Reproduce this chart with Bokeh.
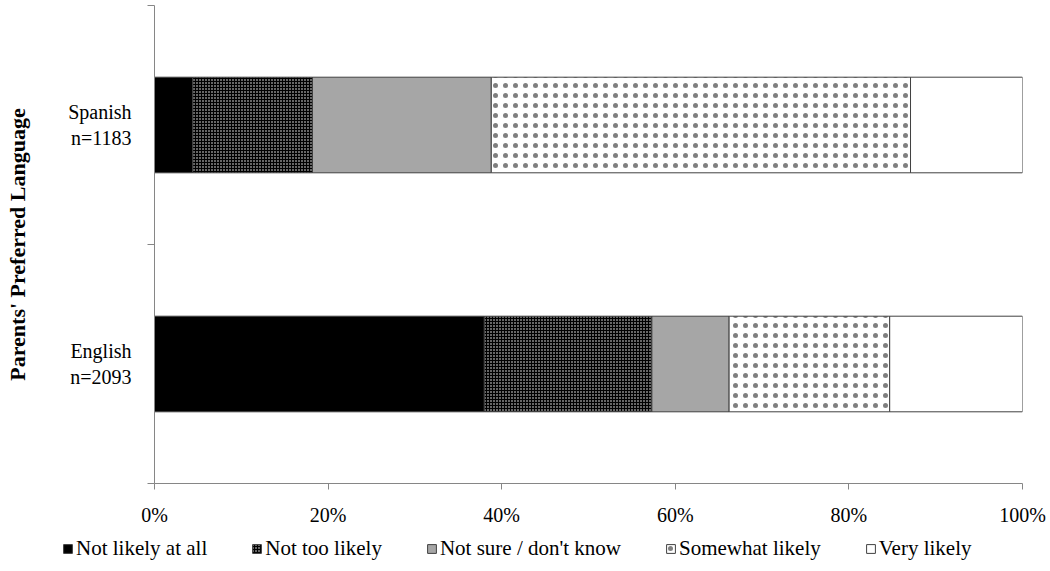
from bokeh.plotting import figure
from bokeh.layouts import column
from bokeh.models import (ColumnDataSource, Range1d, FixedTicker, NumeralTickFormatter,
                          Legend, LegendItem)
from bokeh.embed import file_html
from bokeh.resources import INLINE

# ---- data ----
languages = ["English", "Spanish"]
sample_sizes = [2093, 1183]
responses = ["Not likely at all", "Not too likely", "Not sure / don't know",
             "Somewhat likely", "Very likely"]
english_pct = [38.0, 19.3, 8.9, 18.5, 15.3]
spanish_pct = [4.4, 13.8, 20.6, 48.3, 12.9]
x_ticks = [0, 0.2, 0.4, 0.6, 0.8, 1.0]

# ---- styles ----
fills = ["#000000", "#000000", "#A6A6A6", "#FFFFFF", "#FFFFFF"]
hatches = [" ", "dot", " ", "dot", " "]
hatch_colors = ["#000000", "#FFFFFF", "#000000", "#000000", "#000000"]
hatch_scales = [4, 3, 4, 10, 4]
hatch_weights = [1, 1, 1, 1, 1]
hatch_alphas = [1, 1, 1, 0.5, 1]
FONT = "Liberation Serif"

ypos = [i + 0.5 for i in range(len(languages))]
data = {"y": ypos}
for k, r in enumerate(responses):
    data[r] = [english_pct[k] / 100.0, spanish_pct[k] / 100.0]
source = ColumnDataSource(data)

bar_style = dict(fill_color=fills, line_color="#404040", line_width=1,
                 hatch_pattern=hatches, hatch_color=hatch_colors,
                 hatch_scale=hatch_scales, hatch_weight=hatch_weights,
                 hatch_alpha=hatch_alphas)

p = figure(width=1050, height=530, output_backend="svg", toolbar_location=None,
           x_range=Range1d(0, 1), y_range=Range1d(0, 2),
           min_border_left=154, min_border_right=28, min_border_top=5,
           min_border_bottom=47)
p.outline_line_color = None
p.xgrid.visible = False
p.ygrid.visible = False
p.frame_align = False

renderers = p.hbar_stack(responses, y="y", height=0.4, source=source, **bar_style)

# x axis
xa = p.xaxis[0]
xa.ticker = FixedTicker(ticks=x_ticks)
xa.formatter = NumeralTickFormatter(format="0%")
xa.axis_line_color = "#868686"
xa.major_tick_line_color = "#868686"
xa.major_tick_out = 6
xa.major_tick_in = 0
xa.minor_tick_line_color = None
xa.major_label_text_font = FONT
xa.major_label_text_font_size = "20px"
xa.major_label_text_color = "#000000"
xa.major_label_standoff = 14

# y axis
ya = p.yaxis[0]
ya.ticker = FixedTicker(ticks=ypos, minor_ticks=[0, 1, 2])
ya.major_label_overrides = {ypos[i]: f"{languages[i]}\nn={sample_sizes[i]}"
                            for i in range(len(languages))}
ya.axis_line_color = "#868686"
ya.major_tick_line_color = None
ya.major_tick_out = 0
ya.major_tick_in = 0
ya.minor_tick_line_color = "#868686"
ya.minor_tick_out = 7
ya.minor_tick_in = 0
ya.major_label_text_font = FONT
ya.major_label_text_font_size = "20px"
ya.major_label_text_color = "#000000"
ya.major_label_standoff = 16
ya.axis_label = "Parents' Preferred Language"
ya.axis_label_text_font = FONT
ya.axis_label_text_font_size = "22px"
ya.axis_label_text_font_style = "bold"
ya.axis_label_text_color = "#000000"
ya.axis_label_standoff = 35

# legend strip below the chart (same series, drawn outside its visible range)
pl = figure(width=1050, height=41, output_backend="svg", toolbar_location=None,
            x_range=Range1d(0, 1), y_range=Range1d(10, 11),
            x_axis_location=None, y_axis_location=None,
            min_border_left=0, min_border_right=0, min_border_top=0,
            min_border_bottom=0)
pl.outline_line_color = None
pl.xgrid.visible = False
pl.ygrid.visible = False
pl.frame_align = False
leg_renderers = pl.hbar_stack(responses, y="y", height=0.4, source=source, **bar_style)

legend = Legend(items=[LegendItem(label=r, renderers=[rend])
                       for r, rend in zip(responses, leg_renderers)],
                orientation="horizontal", location=(62, 10),
                label_text_font=FONT, label_text_font_size="21px",
                label_text_color="#000000",
                glyph_width=11, glyph_height=11, label_standoff=3,
                spacing=44, padding=0, margin=0, label_height=20,
                background_fill_alpha=0, border_line_alpha=0)
pl.add_layout(legend, "center")

layout = column(p, pl, spacing=0)
open("out.html", "w").write(file_html(layout, INLINE))
